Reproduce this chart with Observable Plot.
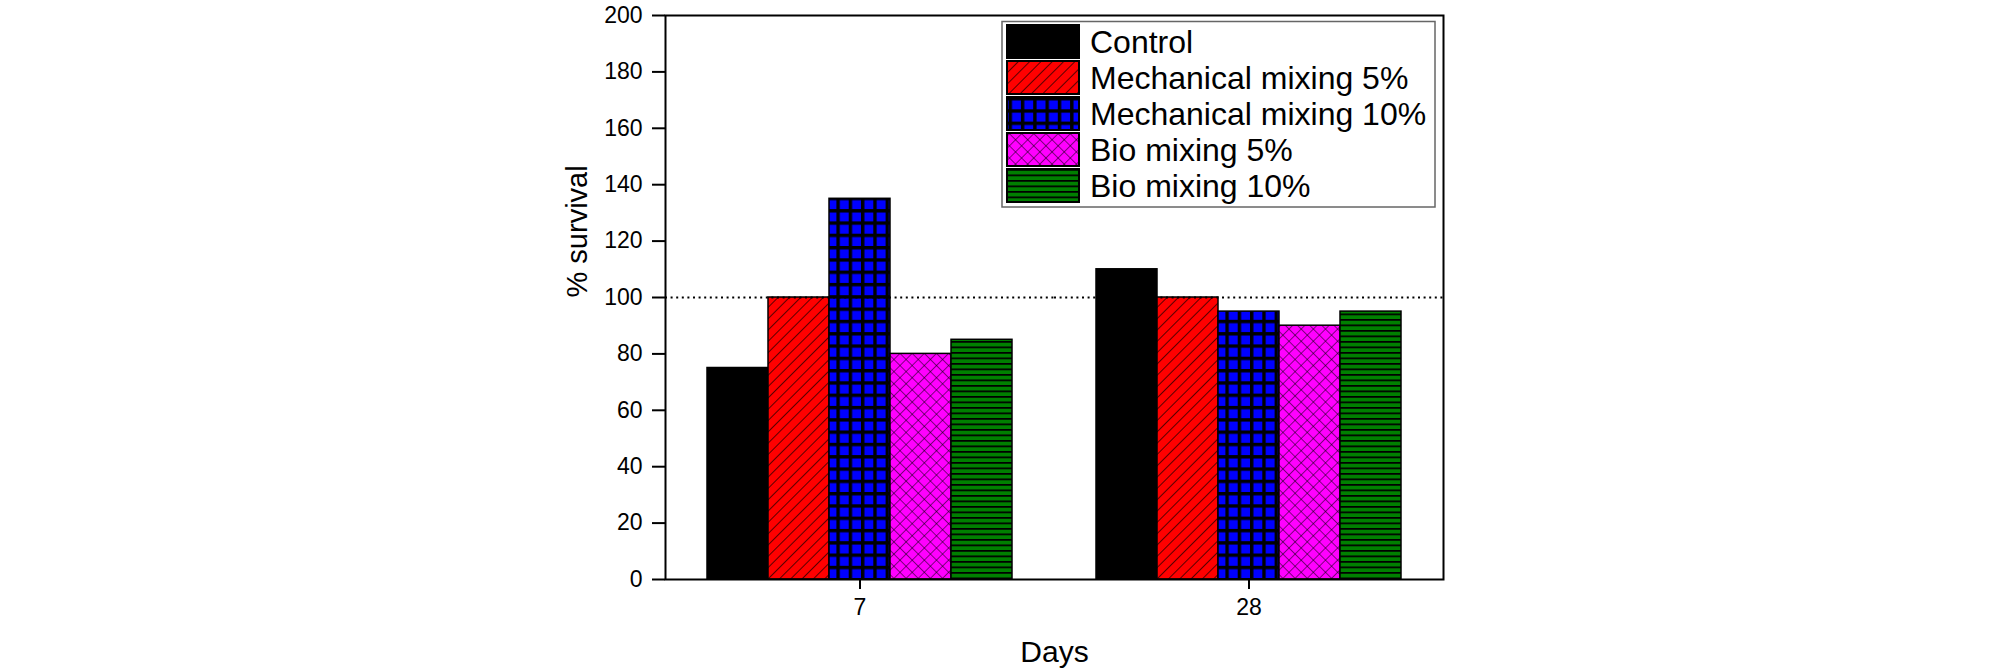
<!DOCTYPE html>
<html>
<head>
<meta charset="utf-8">
<script src="https://cdn.jsdelivr.net/npm/d3@7"></script>
<script src="https://cdn.jsdelivr.net/npm/@observablehq/plot@0.6"></script>
<style>
  html, body { margin: 0; padding: 0; background: #fff; }
  #wrap { position: relative; width: 2008px; height: 671px; overflow: hidden;
          font-family: "Liberation Sans", Arial, sans-serif; }
  #legend { position: absolute; left: 0; top: 0; }
</style>
</head>
<body>
<svg width="0" height="0" style="position:absolute">
  <defs>
    <pattern id="pMech5" width="8" height="8" patternUnits="userSpaceOnUse" patternTransform="rotate(45)">
      <rect width="8" height="8" fill="#ff0000"/>
      <line x1="0" y1="0" x2="0" y2="8" stroke="#000" stroke-width="1.3"/>
    </pattern>
    <pattern id="pMech10" width="12.3" height="12.3" patternUnits="userSpaceOnUse">
      <rect width="12.3" height="12.3" fill="#000"/>
      <rect x="3.4" y="3.4" width="8.9" height="8.9" fill="#0000ff"/>
    </pattern>
    <pattern id="pBio5" width="8.6" height="8.6" patternUnits="userSpaceOnUse" patternTransform="rotate(45)">
      <rect width="8.6" height="8.6" fill="#ff00ff"/>
      <line x1="0" y1="0" x2="0" y2="8.6" stroke="#000" stroke-width="1"/>
      <line x1="0" y1="0" x2="8.6" y2="0" stroke="#000" stroke-width="1"/>
    </pattern>
    <pattern id="pBio10" width="10" height="5.5" patternUnits="userSpaceOnUse">
      <rect width="10" height="5.5" fill="#008000"/>
      <rect x="0" y="0" width="10" height="1.7" fill="#000"/>
    </pattern>
  </defs>
</svg>
<div id="wrap"></div>
<script>
const days = ["7", "28"];
const series = ["Control", "Mechanical mixing 5%", "Mechanical mixing 10%", "Bio mixing 5%", "Bio mixing 10%"];
const survivalDay7 = [75, 100, 135, 80, 85];
const survivalDay28 = [110, 100, 95, 90, 95];
const yTicks = [0, 20, 40, 60, 80, 100, 120, 140, 160, 180, 200];
const referenceLine = [100];
const fills = ["#000000", "url(#pMech5)", "url(#pMech10)", "url(#pBio5)", "url(#pBio10)"];

const data = [];
series.forEach((s, i) => data.push({day: days[0], series: s, value: survivalDay7[i]}));
series.forEach((s, i) => data.push({day: days[1], series: s, value: survivalDay28[i]}));

const font = "'Liberation Sans', Arial, sans-serif";

const chart = Plot.plot({
  width: 2008,
  height: 671,
  marginLeft: 665,
  marginRight: 565,
  marginTop: 15,
  marginBottom: 92,
  style: {fontFamily: font, fontSize: "23px", color: "#000", background: "#fff"},
  fx: {domain: days, padding: 0, label: null},
  x: {domain: series, paddingInner: 0, paddingOuter: 0.668, axis: null},
  y: {domain: [0, 200], label: null},
  color: {domain: series, range: fills},
  marks: [
    Plot.barY(data, {fx: "day", x: "series", y: "value", fill: "series", stroke: "#000", strokeWidth: 1.5}),
    Plot.ruleY(referenceLine, {stroke: "#000", strokeWidth: 2, strokeDasharray: "2 3.6"}),
    Plot.frame({facet: "super", stroke: "#000", strokeWidth: 2}),
    Plot.axisY({ticks: yTicks, tickSize: 13, tickPadding: 10, fontSize: 23, strokeWidth: 2, label: null}),
    Plot.axisFx({anchor: "bottom", tickSize: 10, tickPadding: 9, fontSize: 23, strokeWidth: 2, label: null}),
    Plot.text(["% survival"], {facet: "super", frameAnchor: "left", dx: -88, rotate: -90, fontSize: 29, fill: "#000"}),
    Plot.text(["Days"], {facet: "super", frameAnchor: "bottom", dy: 82, fontSize: 30, fill: "#000"})
  ]
});
document.getElementById("wrap").appendChild(chart);

// Legend (inside the plot area, top right)
const leg = d3.select("#wrap").append("svg")
  .attr("id", "legend").attr("width", 2008).attr("height", 671);
leg.append("rect")
  .attr("x", 1002).attr("y", 21.5).attr("width", 433).attr("height", 185.5)
  .attr("fill", "#fff").attr("stroke", "#666").attr("stroke-width", 1.5);
const rows = leg.selectAll("g.row").data(series).join("g")
  .attr("class", "row")
  .attr("transform", (d, i) => `translate(0,${25 + i * 36})`);
rows.append("rect")
  .attr("x", 1007).attr("y", 0).attr("width", 72).attr("height", 33)
  .attr("fill", (d, i) => fills[i]).attr("stroke", "#000").attr("stroke-width", 2);
rows.append("text")
  .attr("x", 1090).attr("y", 16.5).attr("dy", "0.36em")
  .attr("font-family", font).attr("font-size", 32).attr("fill", "#000")
  .text(d => d);
</script>
</body>
</html>
